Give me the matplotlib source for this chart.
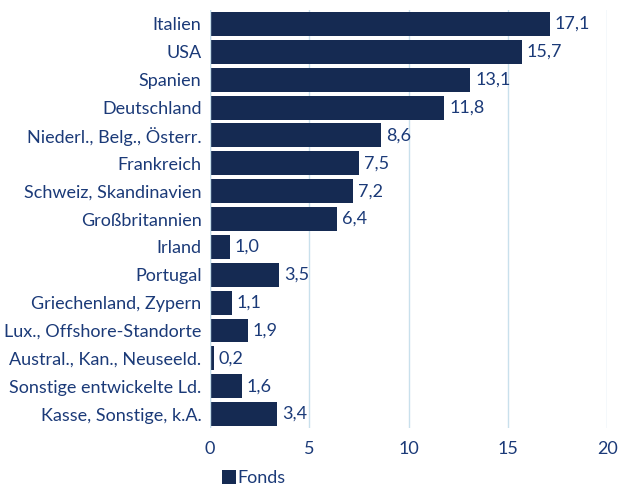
import matplotlib.pyplot as plt

categories = ['Italien', 'USA', 'Spanien', 'Deutschland', 'Niederl., Belg., Österr.',
              'Frankreich', 'Schweiz, Skandinavien', 'Großbritannien', 'Irland', 'Portugal',
              'Griechenland, Zypern', 'Lux., Offshore-Standorte', 'Austral., Kan., Neuseeld.',
              'Sonstige entwickelte Ld.', 'Kasse, Sonstige, k.A.']
fonds = [17.1, 15.7, 13.1, 11.8, 8.6, 7.5, 7.2, 6.4, 1.0, 3.5, 1.1, 1.9, 0.2, 1.6, 3.4]
xticks = [0, 5, 10, 15, 20]

bar_color = '#152a52'
text_color = '#1b3a78'
grid_color = '#c9e0ec'

plt.rcParams['font.family'] = ['Lato', 'DejaVu Sans']
fs = 13

fig = plt.figure(figsize=(6.19, 4.9), dpi=100)
ax = fig.add_axes([0.339, 0.1265, 0.642, 0.853])

ypos = list(range(len(categories)))
bars = ax.barh(ypos, fonds, height=0.86, color=bar_color, label='Fonds', zorder=3)
for y, v in zip(ypos, fonds):
    ax.text(v + 0.25, y, f'{v:.1f}'.replace('.', ','), va='center', ha='left',
            fontsize=fs, color=text_color)

ax.set_ylim(len(categories) - 0.5, -0.5)
ax.set_xlim(0, 20)
ax.set_yticks(ypos)
ax.set_yticklabels(categories, fontsize=fs, color=text_color)
ax.set_xticks(xticks)
ax.set_xticklabels([str(t) for t in xticks], fontsize=fs, color=text_color)
ax.tick_params(length=0, pad=6)
ax.tick_params(axis='x', pad=9)
ax.xaxis.grid(True, color=grid_color, linewidth=1, zorder=0)
for s in ax.spines.values():
    s.set_visible(False)
ax.axvline(0, color=grid_color, linewidth=1, zorder=4)

fig.legend(handles=[bars], labels=['Fonds'], loc='lower left', bbox_to_anchor=(0.333, -0.025),
           frameon=False, fontsize=fs, labelcolor=text_color, handlelength=0.75,
           handleheight=0.85, handletextpad=0.1)

fig.savefig('out.png', dpi=100)
